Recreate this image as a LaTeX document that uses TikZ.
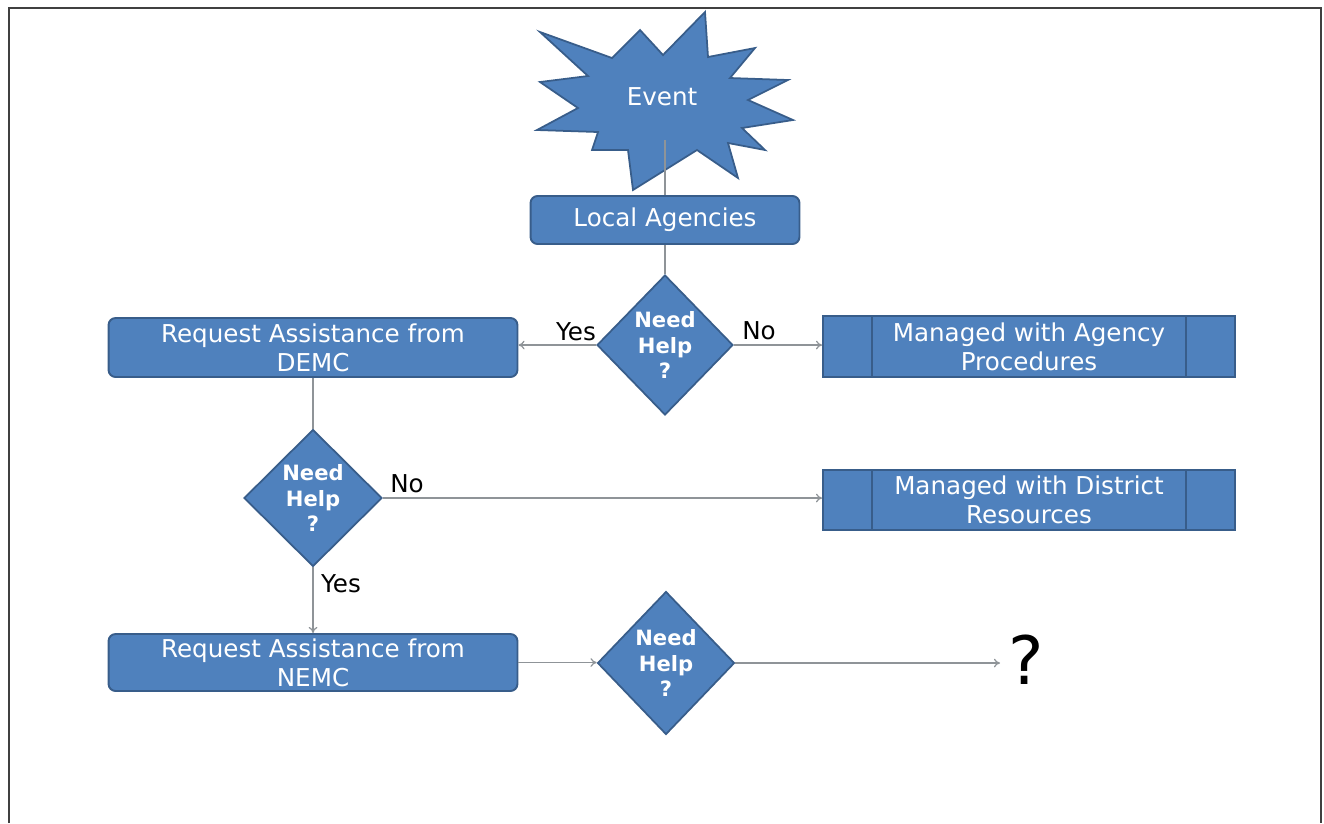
\documentclass[tikz,border=0pt]{standalone}
\usepackage{fontspec}
\setmainfont{DejaVu Sans}
\usetikzlibrary{shapes.geometric,arrows.meta}
\definecolor{boxfill}{HTML}{4F81BD}
\definecolor{boxline}{HTML}{385D8A}
\definecolor{conn}{HTML}{8F9498}
\tikzset{
  box/.style={draw=boxline, fill=boxfill, line width=1.1pt, text=white, align=center,
    font=\fontsize{14}{16.4}\selectfont, inner sep=0pt},
  rbox/.style={box, rounded corners=4pt},
  pbox/.style={box},
  dec/.style={draw=boxline, fill=boxfill, line width=1pt, diamond, aspect=1, inner sep=0pt,
    text=white, align=center, font=\fontsize{12}{14.7}\selectfont\bfseries},
  conn/.style={draw=conn, line width=0.7pt},
  arr/.style={conn, -{To[length=3.5pt,width=5pt]}},
  lab/.style={text=black, font=\fontsize{14}{16}\selectfont, inner sep=0pt}
}
\begin{document}
\begin{tikzpicture}[x=0.02cm,y=-0.02cm]
\useasboundingbox (0,0) rectangle (1324,823);
% frame
\draw[line width=1.2pt, draw=black!75] (9,823) -- (9,8) -- (1321,8) -- (1321,823);
% event star
\coordinate (ev) at (665,140);
\filldraw[draw=boxline, fill=boxfill, line width=1pt]
  (540,32) -- (612,58) -- (640,30) -- (663,55) -- (705,12) -- (708,57) -- (755,48)
  -- (730,78) -- (788,80) -- (748,100) -- (793,120) -- (742,128) -- (765,150)
  -- (728,143) -- (738,178) -- (697,150) -- (633,190) -- (628,150) -- (592,150)
  -- (598,132) -- (537,130) -- (578,108) -- (540,82) -- (588,76) -- cycle;
\node[text=white, font=\fontsize{14}{16}\selectfont, inner sep=0pt] (evt) at (662,97) {Event};
% nodes
\node[rbox, minimum width=5.38cm, minimum height=0.96cm] (la) at (665,220) {Local Agencies};
\node[dec, minimum width=2.72cm, minimum height=2.8cm] (d1) at (665,345) {Need\\Help\\?};
\node[rbox, minimum width=8.18cm, minimum height=1.18cm] (demc) at (313,347.5) {Request Assistance from\\DEMC};
\node[pbox, minimum width=8.24cm, minimum height=1.22cm] (ag) at (1029,346.5) {Managed with Agency\\Procedures};
\node[dec, minimum width=2.76cm, minimum height=2.74cm] (d2) at (313,498) {Need\\Help\\?};
\node[pbox, minimum width=8.24cm, minimum height=1.2cm] (di) at (1029,500) {Managed with District\\Resources};
\node[rbox, minimum width=8.18cm, minimum height=1.14cm] (nemc) at (313,662.5) {Request Assistance from\\NEMC};
\node[dec, minimum width=2.74cm, minimum height=2.86cm] (d3) at (666,663) {Need\\Help\\?};
\node[text=black, font=\fontsize{38}{40}\selectfont, inner sep=0pt, anchor=west] (q) at (1008,660) {?};
% inner lines of predefined process boxes
\draw[draw=boxline, line width=0.8pt] ([xshift=1cm]ag.north west) -- ([xshift=1cm]ag.south west);
\draw[draw=boxline, line width=0.8pt] ([xshift=-1cm]ag.north east) -- ([xshift=-1cm]ag.south east);
\draw[draw=boxline, line width=0.8pt] ([xshift=1cm]di.north west) -- ([xshift=1cm]di.south west);
\draw[draw=boxline, line width=0.8pt] ([xshift=-1cm]di.north east) -- ([xshift=-1cm]di.south east);
% connectors
\draw[conn] (ev) -- (la.north);
\draw[conn] (la.south) -- (d1.north);
\draw[arr] (d1.west) -- (d1.west -| demc.east);
\draw[arr] (d1.east) -- (d1.east -| ag.west);
\draw[conn] (demc.south) -- (d2.north);
\draw[arr] (d2.east) -- (d2.east -| di.west);
\draw[arr] (d2.south) -- (nemc.north);
\draw[arr] (nemc.east) -- (nemc.east -| d3.west);
\draw[arr] (d3.east) -- ([xshift=-0.16cm]q.west |- d3.east);
% labels
\node[lab] (y1) at (576,332) {Yes};
\node[lab] (n1) at (759,331) {No};
\node[lab] (n2) at (407,484) {No};
\node[lab] (y2) at (341,584) {Yes};
\end{tikzpicture}
\end{document}
